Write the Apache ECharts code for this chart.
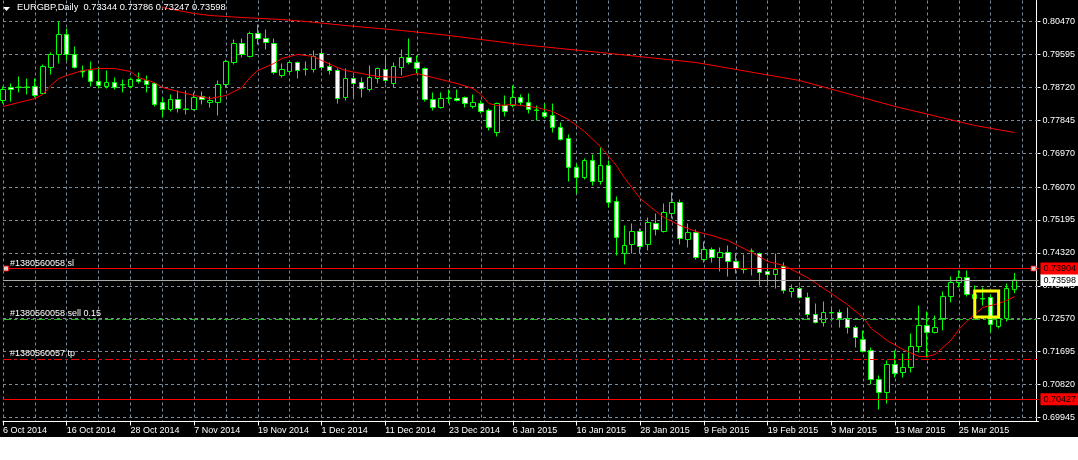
<!DOCTYPE html>
<html><head><meta charset="utf-8">
<script src="https://cdn.jsdelivr.net/npm/echarts@6/dist/echarts.min.js"></script>
<style>html,body{margin:0;padding:0;background:#fff;}#c{width:1078px;height:437px;background:#000;}</style>
</head><body><div id="c"></div>
<script>
const symbolName = 'EURGBP,Daily';
const dates = [
'6 Oct 2014','7 Oct 2014','8 Oct 2014','9 Oct 2014','10 Oct 2014','13 Oct 2014','14 Oct 2014','15 Oct 2014','16 Oct 2014','17 Oct 2014',
'20 Oct 2014','21 Oct 2014','22 Oct 2014','23 Oct 2014','24 Oct 2014','27 Oct 2014','28 Oct 2014','29 Oct 2014','30 Oct 2014','31 Oct 2014',
'3 Nov 2014','4 Nov 2014','5 Nov 2014','6 Nov 2014','7 Nov 2014','10 Nov 2014','11 Nov 2014','12 Nov 2014','13 Nov 2014','14 Nov 2014',
'17 Nov 2014','18 Nov 2014','19 Nov 2014','20 Nov 2014','21 Nov 2014','24 Nov 2014','25 Nov 2014','26 Nov 2014','27 Nov 2014','28 Nov 2014',
'1 Dec 2014','2 Dec 2014','3 Dec 2014','4 Dec 2014','5 Dec 2014','8 Dec 2014','9 Dec 2014','10 Dec 2014','11 Dec 2014','12 Dec 2014',
'15 Dec 2014','16 Dec 2014','17 Dec 2014','18 Dec 2014','19 Dec 2014','22 Dec 2014','23 Dec 2014','24 Dec 2014','26 Dec 2014','29 Dec 2014',
'30 Dec 2014','31 Dec 2014','2 Jan 2015','5 Jan 2015','6 Jan 2015','7 Jan 2015','8 Jan 2015','9 Jan 2015','12 Jan 2015','13 Jan 2015',
'14 Jan 2015','15 Jan 2015','16 Jan 2015','19 Jan 2015','20 Jan 2015','21 Jan 2015','22 Jan 2015','23 Jan 2015','26 Jan 2015','27 Jan 2015',
'28 Jan 2015','29 Jan 2015','30 Jan 2015','2 Feb 2015','3 Feb 2015','4 Feb 2015','5 Feb 2015','6 Feb 2015','9 Feb 2015','10 Feb 2015',
'11 Feb 2015','12 Feb 2015','13 Feb 2015','16 Feb 2015','17 Feb 2015','18 Feb 2015','19 Feb 2015','20 Feb 2015','23 Feb 2015','24 Feb 2015',
'25 Feb 2015','26 Feb 2015','27 Feb 2015','2 Mar 2015','3 Mar 2015','4 Mar 2015','5 Mar 2015','6 Mar 2015','9 Mar 2015','10 Mar 2015',
'11 Mar 2015','12 Mar 2015','13 Mar 2015','16 Mar 2015','17 Mar 2015','18 Mar 2015','19 Mar 2015','20 Mar 2015','23 Mar 2015','24 Mar 2015',
'25 Mar 2015','26 Mar 2015','27 Mar 2015','30 Mar 2015','31 Mar 2015','1 Apr 2015','2 Apr 2015','3 Apr 2015','','',''
];
const opens = [
0.78370,0.78716,0.78716,0.78729,0.78742,0.78556,0.79247,0.79593,0.80124,0.79593,
0.79154,0.79167,0.78875,0.78742,0.78848,0.78782,0.78742,0.78928,0.78902,0.78822,
0.78317,0.78131,0.78397,0.78144,0.78131,0.78476,0.78317,0.78317,0.78795,0.79380,
0.79885,0.79540,0.80151,0.80018,0.79885,0.79035,0.79141,0.79380,0.79207,0.79194,
0.79619,0.79274,0.79167,0.78450,0.78955,0.78848,0.78662,0.78955,0.79194,0.78822,
0.79247,0.79513,0.79380,0.79221,0.78397,0.78184,0.78436,0.78423,0.78450,0.78211,
0.78290,0.78104,0.77519,0.78237,0.78237,0.78450,0.78317,0.78118,0.78051,0.77971,
0.77652,0.77360,0.76589,0.76323,0.76775,0.76217,0.76642,0.75685,0.74303,0.74543,
0.74888,0.74543,0.75101,0.74888,0.75366,0.75659,0.74675,0.74861,0.74144,0.74410,
0.74197,0.74330,0.74091,0.73891,0.74356,0.74303,0.73825,0.73745,0.73958,0.73293,
0.73373,0.73134,0.72682,0.72469,0.72722,0.72735,0.72576,0.72336,0.72017,0.71725,
0.70954,0.70609,0.71353,0.71140,0.71273,0.71831,0.72390,0.72203,0.72576,0.73160,
0.73532,0.73665,0.73214,0.73107,0.73134,0.72363,0.72576,0.73344
];
const highs = [
0.78742,0.78822,0.79008,0.78955,0.78955,0.79327,0.79646,0.80470,0.80284,0.79805,
0.79300,0.79407,0.79247,0.79167,0.78981,0.78928,0.78981,0.79114,0.79035,0.78848,
0.78450,0.78530,0.78636,0.78636,0.78583,0.78609,0.78476,0.78902,0.79460,0.79991,
0.80018,0.80204,0.80390,0.80257,0.80018,0.79353,0.79433,0.79407,0.79407,0.79699,
0.79752,0.79380,0.79221,0.79221,0.79035,0.78981,0.79300,0.79247,0.79566,0.79380,
0.79726,0.80018,0.79566,0.79247,0.78583,0.78583,0.78662,0.78662,0.78476,0.78530,
0.78370,0.78157,0.78317,0.78503,0.78769,0.78530,0.78556,0.78237,0.78290,0.78290,
0.77785,0.77466,0.76696,0.76828,0.76935,0.77121,0.76775,0.75818,0.75048,0.75101,
0.74968,0.75260,0.75366,0.75632,0.75925,0.75739,0.75101,0.74941,0.74622,0.74463,
0.74463,0.74516,0.74303,0.74277,0.74436,0.74330,0.74038,0.74303,0.74064,0.73479,
0.73426,0.73267,0.72974,0.73027,0.72895,0.72815,0.72868,0.72390,0.72257,0.71805,
0.71061,0.71459,0.71725,0.71645,0.72177,0.72921,0.72762,0.72655,0.73293,0.73692,
0.73851,0.73851,0.73453,0.73400,0.73214,0.72655,0.73506,0.73786
];
const lows = [
0.78290,0.78343,0.78583,0.78530,0.78450,0.78530,0.79061,0.79353,0.79433,0.79221,
0.78981,0.78742,0.78689,0.78689,0.78662,0.78583,0.78689,0.78822,0.78583,0.78211,
0.77918,0.78078,0.78051,0.77998,0.78104,0.78264,0.78184,0.77971,0.78716,0.79327,
0.79513,0.79513,0.79859,0.79726,0.79061,0.78981,0.79088,0.78955,0.79035,0.79114,
0.79167,0.79061,0.78290,0.78370,0.78450,0.78450,0.78609,0.78822,0.78822,0.78716,
0.79035,0.79327,0.79088,0.78343,0.78104,0.78157,0.78290,0.78343,0.78184,0.78157,
0.78025,0.77573,0.77413,0.77945,0.78184,0.78237,0.78025,0.77838,0.77892,0.77519,
0.77307,0.76217,0.75898,0.76270,0.76111,0.76137,0.75526,0.74250,0.74011,0.74303,
0.74303,0.74383,0.74782,0.74861,0.75234,0.74543,0.74463,0.74144,0.74064,0.74064,
0.73825,0.73692,0.73772,0.73772,0.73719,0.73453,0.73532,0.73373,0.73240,0.73134,
0.73107,0.72602,0.72443,0.72363,0.72576,0.72336,0.72177,0.71805,0.71672,0.70821,
0.70157,0.70316,0.71007,0.71007,0.71140,0.71672,0.71539,0.72177,0.72257,0.73001,
0.73400,0.73160,0.73054,0.72921,0.72203,0.72310,0.72496,0.73247
];
const closes = [
0.78662,0.78662,0.78729,0.78716,0.78503,0.79274,0.79593,0.80124,0.79593,0.79247,
0.79128,0.78875,0.78769,0.78848,0.78716,0.78795,0.78928,0.78875,0.78795,0.78264,
0.78131,0.78397,0.78157,0.78131,0.78450,0.78397,0.78370,0.78795,0.79407,0.79885,
0.79593,0.80151,0.80018,0.79912,0.79114,0.79194,0.79380,0.79167,0.79194,0.79540,
0.79247,0.79167,0.78423,0.78955,0.78822,0.78689,0.78981,0.79221,0.78902,0.79274,
0.79513,0.79380,0.79221,0.78397,0.78184,0.78423,0.78423,0.78370,0.78290,0.78317,
0.78078,0.77652,0.78290,0.78078,0.78450,0.78317,0.78131,0.78104,0.77945,0.77652,
0.77333,0.76589,0.76323,0.76775,0.76217,0.76642,0.75659,0.74729,0.74516,0.74888,
0.74489,0.75127,0.74941,0.75393,0.75659,0.74702,0.74861,0.74197,0.74410,0.74197,
0.74330,0.74091,0.73905,0.73878,0.74370,0.73798,0.73745,0.73878,0.73320,0.73373,
0.73134,0.72682,0.72469,0.72735,0.72735,0.72576,0.72336,0.72071,0.71698,0.70954,
0.70609,0.71353,0.71114,0.71273,0.71831,0.72390,0.72203,0.72336,0.73160,0.73532,
0.73665,0.73214,0.73107,0.73094,0.72416,0.72576,0.73373,0.73598
];
// moving averages: [bar index, value]
const maFast = [
[0,0.78211],[2,0.78317],[4,0.78423],[5,0.78530],[6,0.78769],[7,0.78955],[8,0.79035],[10,0.79167],[12,0.79221],[14,0.79221],
[16,0.79141],[17,0.78981],[19,0.78848],[20,0.78716],[22,0.78609],[24,0.78503],[26,0.78423],[28,0.78503],[30,0.78716],[31,0.78981],
[32,0.79167],[34,0.79353],[35,0.79486],[37,0.79593],[39,0.79540],[40,0.79433],[42,0.79247],[43,0.79167],[45,0.79088],[47,0.79008],
[50,0.78981],[52,0.79088],[54,0.78981],[55,0.78928],[57,0.78822],[59,0.78689],[60,0.78530],[61,0.78290],[62,0.78237],[64,0.78264],
[65,0.78237],[67,0.78184],[69,0.78078],[71,0.77865],[73,0.77546],[75,0.77147],[77,0.76642],[78,0.76323],[80,0.75765],[82,0.75420],
[83,0.75260],[85,0.75048],[87,0.74888],[89,0.74782],[91,0.74649],[94,0.74330],[96,0.74091],[98,0.73984],[101,0.73665],[104,0.73240],
[106,0.72948],[108,0.72602],[109,0.72310],[111,0.71991],[113,0.71752],[115,0.71566],[116,0.71566],[117,0.71619],[119,0.71991],[120,0.72283],
[121,0.72496],[123,0.72868],[125,0.72974],[126,0.73054],[127,0.73160]
];
const maSlow = [
[20,0.80842],[24,0.80682],[26,0.80629],[30,0.80576],[35,0.80523],[38,0.80470],[43,0.80363],[50,0.80231],
[56,0.80098],[61,0.79965],[65,0.79858],[75,0.79646],[87,0.79380],[100,0.78902],[112,0.78211],[122,0.77706],[127,0.77519]
];
const yTicks = [0.80470,0.79595,0.78720,0.77845,0.76970,0.76070,0.75195,0.74320,0.73445,0.72570,0.71695,0.70820,0.69945];
const slPrice = 0.73904, bidPrice = 0.73598, sellPrice = 0.72549, tpPrice = 0.71486, levelPrice = 0.70427;
const slText = '#1380560058 sl', sellText = '#1380560058 sell 0.15', tpText = '#1380560057 tp';
const slMarkerBars = [0, 129];
const boxBars = [122, 125], boxPrices = [0.73307, 0.72615];

const FONT = "'Liberation Sans', Arial, sans-serif";
const last = opens.length - 1;
const candleData = opens.map((o, i) => [o, closes[i], lows[i], highs[i]]);
const every8 = (i, v) => i % 8 === 0 && v !== '';
const leftLabel = (txt) => ({show: true, position: 'insideStartTop', formatter: txt, color: '#fff',
  fontSize: 9, fontFamily: FONT, distance: [7, 1]});
const rightLabel = (bg, fg) => ({show: true, position: 'end', formatter: p => Number(p.value).toFixed(5),
  color: fg, backgroundColor: bg, fontSize: 9, fontFamily: FONT, padding: [2, 3, 1, 3], distance: 2});

const chart = echarts.init(document.getElementById('c'));
chart.setOption({
  animation: false,
  backgroundColor: '#000',
  title: {
    text: symbolName + '  ' + [opens[last], highs[last], lows[last], closes[last]].map(v => v.toFixed(5)).join(' '),
    left: 17, top: 3, padding: 0,
    textStyle: {color: '#fff', fontSize: 9.3, fontWeight: 'normal', fontFamily: FONT}
  },
  graphic: [{type: 'polygon', shape: {points: [[3, 7], [10, 7], [6.5, 11]]}, style: {fill: '#fff'}}],
  grid: {left: 0, top: 0.5, width: 1040, height: 421},
  xAxis: {
    type: 'category', data: dates, boundaryGap: false,
    axisLine: {lineStyle: {color: '#fff', width: 1}},
    axisTick: {show: true, interval: every8, length: 4, lineStyle: {color: '#fff'}},
    axisLabel: {interval: every8, align: 'left', color: '#fff', fontSize: 9, fontFamily: FONT, margin: 5},
    splitLine: {show: true, interval: (i) => i % 4 === 0,
      lineStyle: {color: '#7a8a9a', type: [3, 3], width: 1}}
  },
  yAxis: {
    type: 'value', position: 'right', min: 0.69838, max: 0.81028, offset: -2,
    axisLine: {show: true, lineStyle: {color: '#fff'}},
    axisTick: {show: true, customValues: yTicks, length: 4, lineStyle: {color: '#fff'}},
    axisLabel: {customValues: yTicks, formatter: v => v.toFixed(5), color: '#fff', fontSize: 9, fontFamily: FONT, margin: 6},
    splitLine: {show: false}
  },
  series: [
    {
      type: 'line', data: maSlow, showSymbol: false, z: 3, silent: true,
      lineStyle: {color: '#ff0000', width: 1},
      markLine: {
        silent: true, symbol: ['none', 'none'], z: 1, animation: false, precision: 5,
        lineStyle: {color: '#7a8a9a', type: [3, 3], width: 1},
        label: {show: false},
        data: yTicks.map(v => ({yAxis: v}))
      }
    },
    {
      type: 'candlestick', data: candleData, barWidth: 5, z: 2,
      itemStyle: {color: '#000000', color0: '#ffffff', borderColor: '#00ff00', borderColor0: '#00ff00',
        borderColorDoji: '#00ff00', borderWidth: 1},
      markLine: {
        silent: true, symbol: ['none', 'none'], z: 4, animation: false, precision: 5,
        data: [
          {yAxis: bidPrice, lineStyle: {color: '#a8a8a8', type: 'solid', width: 1}, label: rightLabel('#ffffff', '#000000')},
          {yAxis: slPrice, lineStyle: {color: '#ff0000', type: 'solid', width: 1}, label: leftLabel(slText)},
          {yAxis: slPrice, lineStyle: {color: '#ff0000', type: 'solid', width: 1}, label: rightLabel('#ff0000', '#000000')},
          {yAxis: sellPrice, lineStyle: {color: '#28b828', type: [8, 3, 3, 3], width: 1}, label: leftLabel(sellText)},
          {yAxis: tpPrice, lineStyle: {color: '#ff0000', type: [8, 3, 3, 3], width: 1}, label: leftLabel(tpText)},
          {yAxis: levelPrice, lineStyle: {color: '#ff0000', type: 'solid', width: 1}, label: rightLabel('#ff0000', '#000000')}
        ]
      },
      markArea: {
        silent: true, z: 6,
        itemStyle: {color: 'rgba(0,0,0,0)', borderColor: '#ffff00', borderWidth: 3},
        data: [[{xAxis: boxBars[0], yAxis: boxPrices[0]}, {xAxis: boxBars[1], yAxis: boxPrices[1]}]]
      }
    },
    {
      type: 'line', data: maFast, showSymbol: false, z: 3, silent: true, connectNulls: true,
      lineStyle: {color: '#ff0000', width: 1}
    },
    {
      type: 'scatter', silent: true, z: 7, symbol: 'rect', symbolSize: 5,
      itemStyle: {color: '#ffffff', borderColor: '#ff0000', borderWidth: 1},
      data: slMarkerBars.map(b => ({value: [b, slPrice], symbolOffset: [3, 0]}))
    }
  ]
});
</script></body></html>
